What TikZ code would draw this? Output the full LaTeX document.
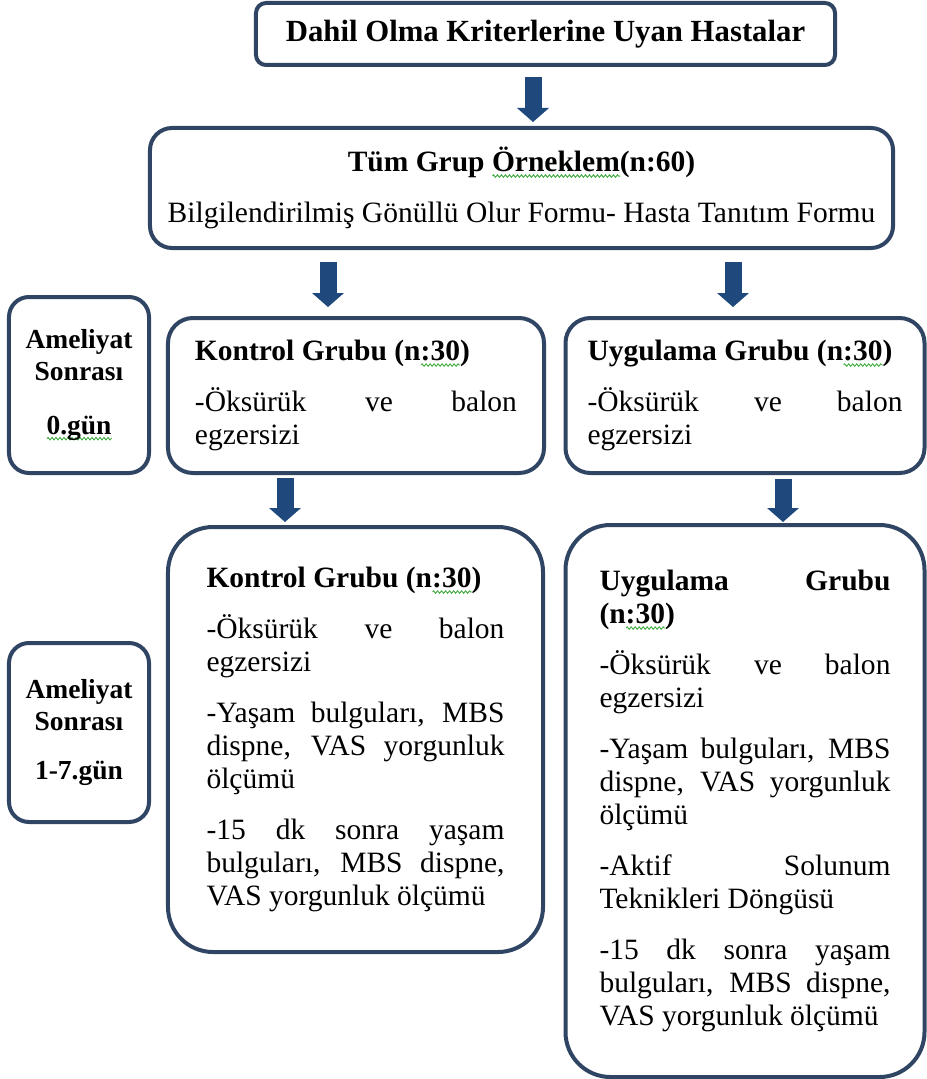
\documentclass[tikz,border=0pt]{standalone}
\usepackage{fontspec}
\setmainfont{Liberation Serif}
\usepackage{tikz}
\usetikzlibrary{arrows.meta,calc,decorations.pathmorphing}
\definecolor{boxline}{RGB}{47,69,99}
\definecolor{arrowfill}{RGB}{31,73,125}
\definecolor{spellgreen}{RGB}{60,170,60}
\newcommand\spl[1]{\setbox0=\hbox{#1}\leavevmode\rlap{\tikz[baseline=0pt]\draw[spellgreen,line width=0.35pt,sharp corners,
  decorate,decoration={zigzag,segment length=1.6pt,amplitude=0.5pt}] (0pt,-1.8pt) -- (\the\wd0,-1.8pt);}\box0}
\tolerance=10000
\hbadness=10000

\begin{document}
\begin{tikzpicture}[x=0.4pt,y=-0.4pt,
  box/.style={draw=boxline,line width=1.6pt,rounded corners=#1,inner sep=0pt},
  txt/.style={font=\fontsize{11.8}{13.2}\selectfont,align=justify,
    execute at begin node={\parindent=0pt\parskip=7.2pt}},
  lbl/.style={font=\fontsize{11}{12.6}\selectfont\bfseries,align=center},
  blk/.style={draw=arrowfill,line width=6.8pt,
    -{Triangle[width=12.8pt,length=5.6pt,line width=0pt]}}]
  \useasboundingbox (0,0) rectangle (926,1079);

  \node[box=4pt,minimum width=231.6pt,minimum height=24.8pt,
    font=\fontsize{12.3}{14}\selectfont\bfseries] (crit) at (545.5,34)
    {Dahil Olma Kriterlerine Uyan Hastalar};
  \node[box=8.8pt,minimum width=297.2pt,minimum height=48pt,
    font=\fontsize{11.8}{13.2}\selectfont,align=center] (all) at (521.5,188)
    {\textbf{Tüm Grup \spl{Örneklem}(n:60)}\\[7.2pt]Bilgilendirilmiş Gönüllü Olur Formu- Hasta Tanıtım Formu};

  \node[box=8pt,minimum width=56pt,minimum height=70.4pt,lbl] (d0) at (79,385)
    {Ameliyat\\Sonrası\\[9pt]\spl{0.gün}};
  \node[box=10pt,minimum width=150.4pt,minimum height=62pt,txt,text width=128.8pt] (k0) at (356,395.5)
    {\textbf{Kontrol Grubu (n\spl{:30})}\par
     -Öksürük ve balon\linebreak egzersizi};
  \node[box=10pt,minimum width=143.6pt,minimum height=62pt,txt,text width=126pt] (u0) at (745,395.5)
    {\textbf{Uygulama Grubu (n\spl{:30})}\par
     -Öksürük ve balon\linebreak egzersizi};

  \node[box=8pt,minimum width=56pt,minimum height=71.6pt,lbl] (d1) at (79,732.5)
    {Ameliyat\\Sonrası\\[7pt]1-7.gün};
  \node[box=18pt,minimum width=150pt,minimum height=170pt,txt,text width=119.2pt] (k1) at (355.5,739.5)
    {\textbf{Kontrol Grubu (n\spl{:30})}\par
     -Öksürük ve balon\linebreak egzersizi\par
     -Yaşam bulguları, MBS\linebreak dispne, VAS yorgunluk\linebreak ölçümü\par
     -15 dk sonra yaşam\linebreak bulguları, MBS dispne,\linebreak VAS yorgunluk ölçümü};
  \node[box=18pt,minimum width=143.6pt,minimum height=220.8pt,txt,text width=116.4pt] (u1) at (745,801)
    {\textbf{Uygulama Grubu\linebreak (n\spl{:30})}\par
     -Öksürük ve balon\linebreak egzersizi\par
     -Yaşam bulguları, MBS\linebreak dispne, VAS yorgunluk\linebreak ölçümü\par
     -Aktif Solunum\linebreak Teknikleri Döngüsü\par
     -15 dk sonra yaşam\linebreak bulguları, MBS dispne,\linebreak VAS yorgunluk ölçümü};

  \coordinate (c1) at (533,0);
  \coordinate (c2) at (328,0);
  \coordinate (c3) at (733,0);
  \coordinate (c4) at (285,0);
  \coordinate (c5) at (783,0);
  \draw[blk] ($(crit.south -| c1)+(0,10)$) -- ($(all.north -| c1)+(0,-4)$);
  \draw[blk] ($(all.south -| c2)+(0,12)$) -- ($(k0.north -| c2)+(0,-9)$);
  \draw[blk] ($(all.south -| c3)+(0,12)$) -- ($(u0.north -| c3)+(0,-9)$);
  \draw[blk] ($(k0.south -| c4)+(0,3)$) -- ($(k1.north -| c4)+(0,-3)$);
  \draw[blk] ($(u0.south -| c5)+(0,4)$) -- ($(u1.north -| c5)+(0,-1)$);
\end{tikzpicture}
\end{document}
